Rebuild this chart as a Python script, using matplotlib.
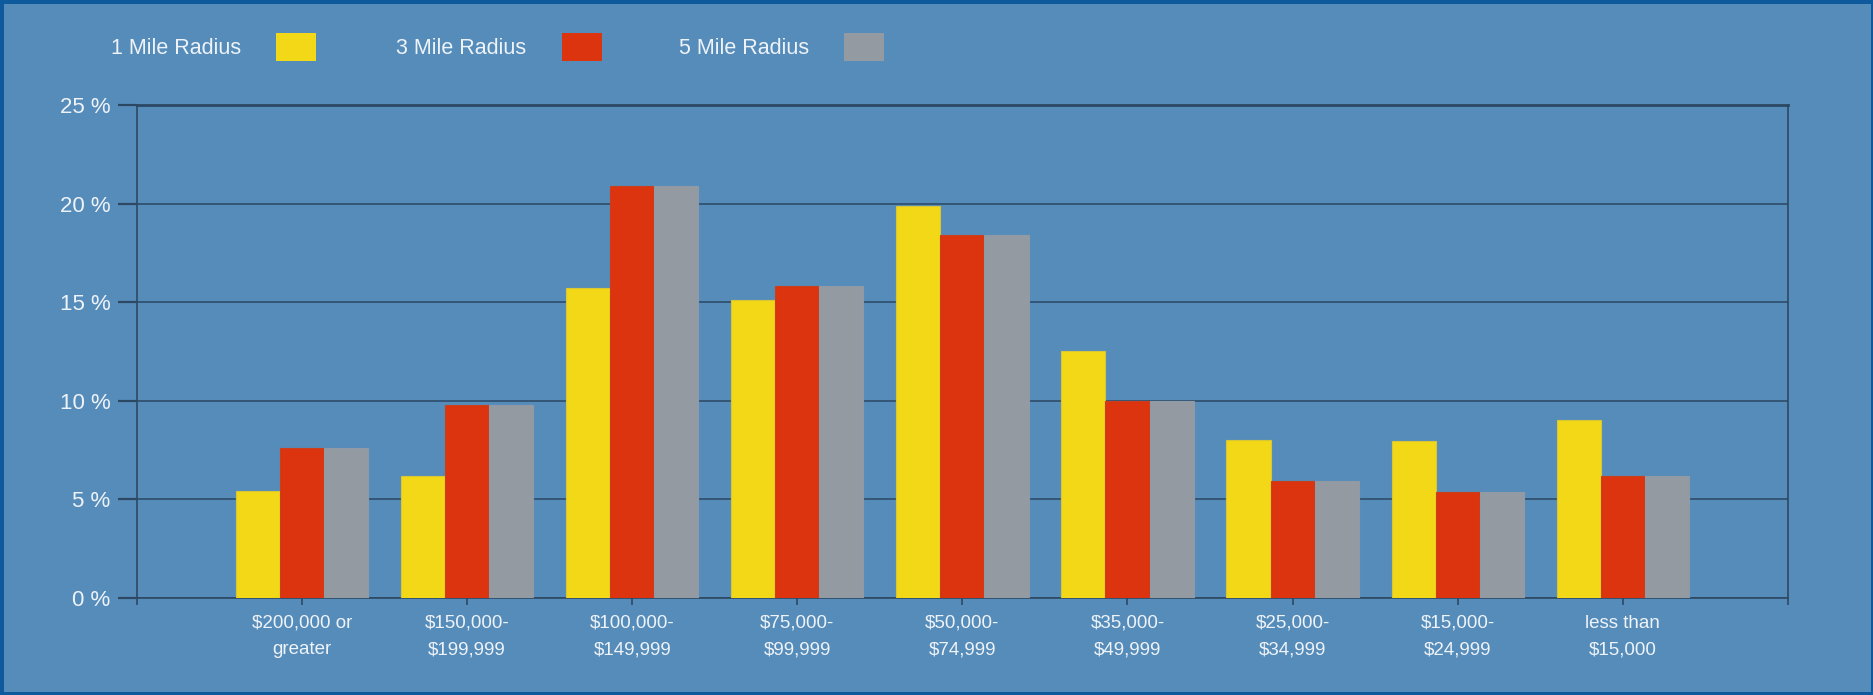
import numpy as np
from matplotlib import pyplot as plt
from matplotlib.patches import Rectangle

categories = ["$200,000 or\ngreater", "$150,000-\n$199,999", "$100,000-\n$149,999",
              "$75,000-\n$99,999", "$50,000-\n$74,999", "$35,000-\n$49,999",
              "$25,000-\n$34,999", "$15,000-\n$24,999", "less than\n$15,000"]
series_names = ["1 Mile Radius", "3 Mile Radius", "5 Mile Radius"]
mile1 = [5.4, 6.2, 15.7, 15.1, 19.9, 12.5, 8.0, 7.95, 9.05]
mile3 = [7.6, 9.8, 20.9, 15.8, 18.4, 10.0, 5.95, 5.35, 6.2]
mile5 = [7.6, 9.8, 20.9, 15.8, 18.4, 10.0, 5.95, 5.35, 6.2]
y_ticks = [0, 5, 10, 15, 20, 25]

bg = "#568cba"
line_col = "#2c4863"
txt_col = "#eef3f8"
colors = ["#f2d816", "#db340f", "#939aa2"]
edges = ["#d9c636", "#c8401c", "#8f9aa6"]

plt.rcParams["font.family"] = ["Liberation Sans", "DejaVu Sans"]

fig = plt.figure(figsize=(18.74, 6.95), dpi=100)
fig.patch.set_facecolor(bg)
fig.patch.set_edgecolor("#0f5a9c")
fig.patch.set_linewidth(5)

ax = fig.add_axes([0.0731, 0.1396, 0.8809, 0.7094])
ax.set_facecolor(bg)
ax.set_axisbelow(True)

x = np.arange(len(categories))
w = 0.267
for i, vals in enumerate([mile1, mile3, mile5]):
    ax.bar(x + (i - 1) * w, vals, width=w, color=colors[i],
           edgecolor=edges[i], linewidth=0.8, zorder=3)

ax.set_xlim(-1, len(categories))
ax.set_ylim(0, 25)
ax.set_yticks(y_ticks)
ax.set_yticklabels([f"{v} %" for v in y_ticks])
ax.set_xticks(list(range(-1, len(categories) + 1)))
ax.set_xticklabels([""] + categories + [""])

ax.yaxis.grid(True, color=line_col, linewidth=1.1)
for side in ["left", "right", "bottom", "top"]:
    ax.spines[side].set_color(line_col)
    ax.spines[side].set_linewidth(1.2)
ax.spines["top"].set_linewidth(2)

ax.tick_params(axis="y", direction="out", length=14, width=1.6, color=line_col,
               labelsize=16, labelcolor=txt_col, pad=5)
ax.tick_params(axis="x", direction="out", length=5, width=1.2, color=line_col,
               labelsize=13.5, labelcolor=txt_col, pad=7)
for lab in ax.get_xticklabels():
    lab.set_linespacing(1.75)

# legend: label first, then swatch
W, H = 1874, 695
text_x = [111, 396, 679]
box_x = [276, 562, 844]
for name, tx, bx, c in zip(series_names, text_x, box_x, colors):
    fig.text(tx / W, 1 - 48 / H, name, color=txt_col, fontsize=15.5,
             ha="left", va="center")
    fig.patches.append(Rectangle((bx / W, 1 - 61 / H), 40 / W, 28 / H,
                                 transform=fig.transFigure, facecolor=c,
                                 edgecolor="none"))

plt.savefig("out.png", dpi=100, facecolor=fig.get_facecolor(),
            edgecolor=fig.get_edgecolor())
